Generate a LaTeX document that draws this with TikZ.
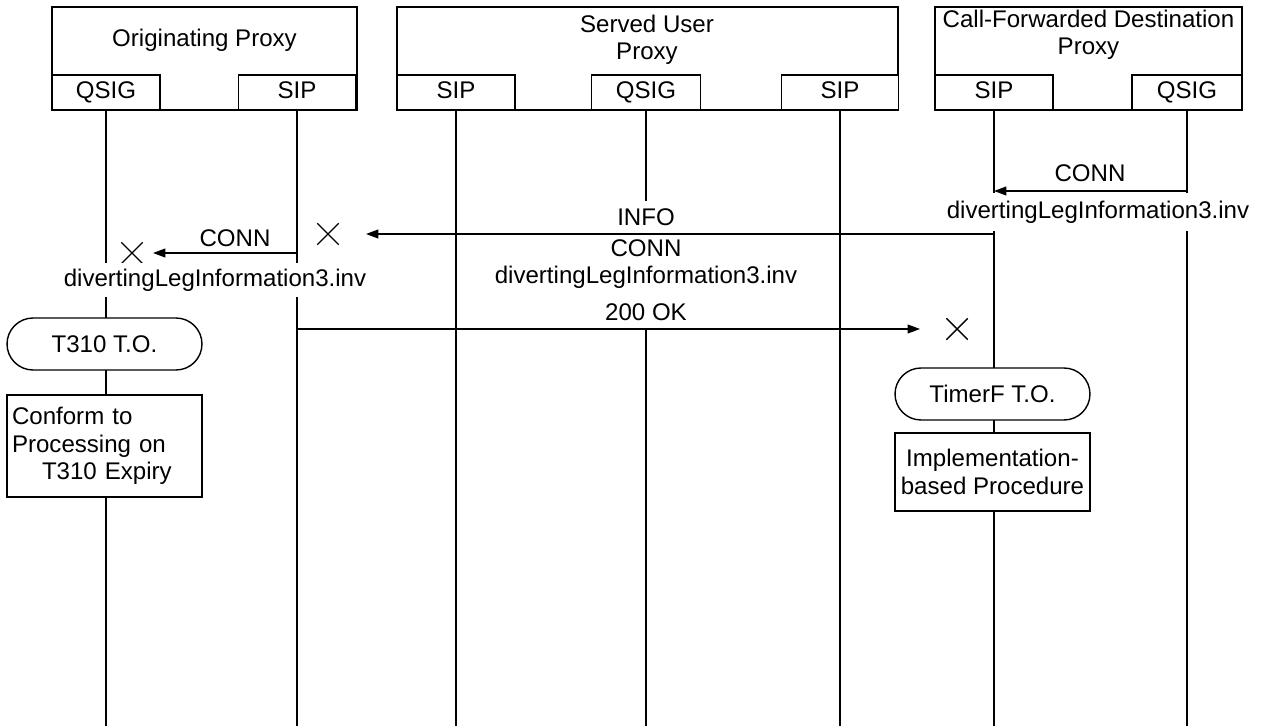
\documentclass[tikz,border=0pt]{standalone}
\usepackage{fontspec}
\setmainfont{Liberation Sans}
\usetikzlibrary{arrows.meta,shapes.misc}

\begin{document}
\begin{tikzpicture}[x=0.02cm,y=-0.02cm,line width=0.8pt,
    font=\fontsize{13.7pt}{15.5pt}\selectfont,
    kotak/.style={draw,fill=white,inner sep=0pt},
    kapsul/.style={draw,fill=white,rounded rectangle,minimum width=3.9cm,minimum height=1.04cm,inner sep=0pt},
    teks/.style={fill=white,inner xsep=2pt,inner ysep=0pt,align=center},
    silang/.style={draw,cross out,minimum size=0.4cm,inner sep=0pt},
    pesan/.style={-{Triangle[length=7pt,width=5pt]}}]
      % Batas gambar
      \useasboundingbox (0,0) rectangle (1261,726);

      % Kotak proxy
      \node[kotak,minimum width=6.1cm,minimum height=2.06cm] (orig) at (204.5,58.5) {};
      \node[kotak,minimum width=10.02cm,minimum height=2.06cm] (serv) at (647.5,58.5) {};
      \node[kotak,minimum width=6.14cm,minimum height=2.06cm] (cfd) at (1088.5,58.5) {};
      \node (orig-t) at (204.5,40) {Originating Proxy};
      \node[align=center] (serv-t) at (647,40) {Served User\\Proxy};
      \node[align=center] (cfd-t) at (1088.5,35) {Call-Forwarded Destination\\Proxy};

      % Kotak protokol di bawah tiap proxy
      \foreach \nama/\x/\w/\isi in {orig-q/106/2.16/QSIG, orig-s/297/2.34/SIP,
          serv-s1/456/2.36/SIP, serv-q/646/2.18/QSIG, serv-s2/840/2.34/SIP,
          cfd-s/994/2.36/SIP, cfd-q/1187/2.2/QSIG}{
          \node[kotak,minimum width=\w cm,minimum height=0.7cm,text height=1.9ex,text depth=0.5ex] (\nama) at (\x,92.5) {\isi};
        }

      % Garis hidup
      \foreach \p in {orig-q,orig-s,serv-s1,serv-q,serv-s2,cfd-s,cfd-q}{
          \draw (\p.south) -- (\p.south |- 0,726);
        }

      % CONN dari QSIG ke SIP pada proxy tujuan
      \node (conn1) at (1090,173) {CONN};
      \node[teks,minimum height=0.76cm] (dli1) at (1098,212) {divertingLegInformation3.inv};
      \draw[pesan] (cfd-q.south |- 0,191) -- (cfd-s.south |- 0,191);

      % INFO menuju SIP asal (hilang)
      \node[silang] (x2) at (328,234) {};
      \node[teks,minimum height=0.66cm] (info) at (646,217) {INFO};
      \node[teks,minimum height=1.32cm] (dli2) at (646,264) {CONN\\divertingLegInformation3.inv};
      \draw[pesan,shorten >=0.76cm] (cfd-s.south |- x2) -- (x2.center);

      % CONN menuju QSIG asal (hilang)
      \node[silang] (x1) at (132,253) {};
      \node (conn2) at (235,238) {CONN};
      \node[teks,minimum height=0.68cm] (dli3) at (215,280) {divertingLegInformation3.inv};
      \draw[pesan,shorten >=0.42cm] (orig-s.south |- x1) -- (x1.center);

      % 200 OK menuju SIP tujuan (hilang)
      \node[silang] (x3) at (957,329) {};
      \node[teks,minimum height=0.66cm] (ok) at (646,312) {200 OK};
      \draw[pesan,shorten >=0.74cm] (orig-s.south |- x3) -- (x3.center);

      % Timer habis dan prosedur lanjutan
      \node[kapsul] (t310) at (104.5,344) {T310 T.O.};
      \node[kotak,minimum width=3.9cm,minimum height=2.04cm,text width=3.7cm,inner xsep=0.1cm,align=left] (conf) at (104.5,446)
        {Conform to\\Processing on\\\hspace*{0.6cm}T310 Expiry};
      \node[kapsul] (timf) at (992.5,394) {TimerF T.O.};
      \node[kotak,minimum width=3.9cm,minimum height=1.56cm,align=center] (impl) at (992.5,472)
        {Implementation-\\based Procedure};
    \end{tikzpicture}
\end{document}
